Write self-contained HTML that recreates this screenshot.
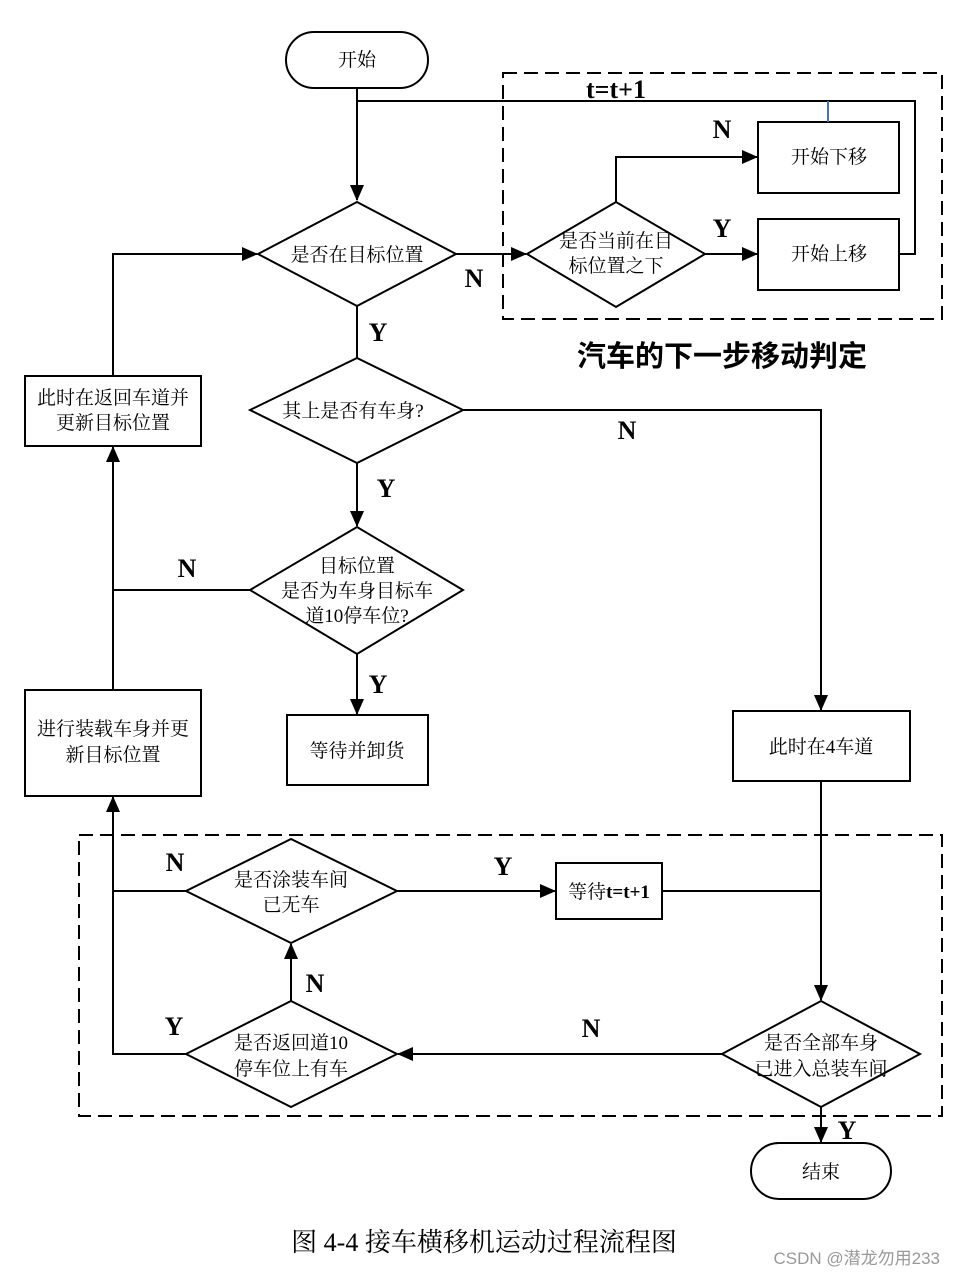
<!DOCTYPE html>
<html><head><meta charset="utf-8"><style>
body{margin:0;background:#fff;}
svg text{font-family:"Liberation Serif","Noto Serif CJK SC",serif;}
</style></head><body>
<svg width="955" height="1276" viewBox="0 0 955 1276" xmlns="http://www.w3.org/2000/svg">
<defs><marker id="b" markerWidth="16" markerHeight="14" refX="15" refY="7" orient="auto" markerUnits="userSpaceOnUse"><path d="M0,0 L16,7 L0,14 z" fill="#000"/></marker></defs>
<g fill="none" stroke="#000" stroke-width="2">
<rect x="503" y="73" width="439" height="246" stroke-dasharray="14,7"/>
<rect x="79" y="835" width="863" height="281" stroke-dasharray="14,7"/>
<rect x="286" y="32" width="142" height="56" rx="28"/>
<rect x="751" y="1143" width="140" height="56" rx="28"/>
<polygon points="258,254 357,202 456,254 357,306"/>
<polygon points="527,254 616,202 705,254 616,307"/>
<polygon points="250,410 357,358 463,410 357,463"/>
<polygon points="250,590 357,527 463,590 357,654"/>
<polygon points="186,891 291,839 397,891 291,943"/>
<polygon points="186,1054 291,1001 397,1054 291,1107"/>
<polygon points="722,1054 821,1001 920,1054 821,1107"/>
<rect x="758" y="122" width="141" height="71"/>
<rect x="758" y="219" width="141" height="71"/>
<rect x="25" y="376" width="176" height="70"/>
<rect x="25" y="690" width="176" height="106"/>
<rect x="287" y="715" width="141" height="70"/>
<rect x="733" y="711" width="177" height="70"/>
<rect x="556" y="863" width="106" height="56"/>
<polyline points="357,101 915,101 915,254 900,254"/>
<line x1="357" y1="88" x2="357" y2="200" marker-end="url(#b)"/>
<line x1="456" y1="254" x2="526" y2="254" marker-end="url(#b)"/>
<polyline points="616,202 616,157 757,157" marker-end="url(#b)"/>
<line x1="705" y1="254" x2="757" y2="254" marker-end="url(#b)"/>
<line x1="357" y1="306" x2="357" y2="358"/>
<polyline points="463,410 821,410 821,710" marker-end="url(#b)"/>
<line x1="357" y1="463" x2="357" y2="526" marker-end="url(#b)"/>
<line x1="357" y1="654" x2="357" y2="714" marker-end="url(#b)"/>
<line x1="250" y1="590" x2="113" y2="590"/>
<line x1="113" y1="690" x2="113" y2="447" marker-end="url(#b)"/>
<polyline points="113,376 113,254 257,254" marker-end="url(#b)"/>
<line x1="821" y1="781" x2="821" y2="1000" marker-end="url(#b)"/>
<line x1="397" y1="891" x2="555" y2="891" marker-end="url(#b)"/>
<line x1="662" y1="891" x2="821" y2="891"/>
<polyline points="186,891 113,891 113,797" marker-end="url(#b)"/>
<line x1="291" y1="1001" x2="291" y2="944" marker-end="url(#b)"/>
<polyline points="186,1054 113,1054 113,891"/>
<line x1="722" y1="1054" x2="398" y2="1054" marker-end="url(#b)"/>
<line x1="821" y1="1107" x2="821" y2="1142" marker-end="url(#b)"/>
</g>
<line x1="828" y1="101" x2="828" y2="122" stroke="#4472c4" stroke-width="2"/>
<g font-size="19" text-anchor="middle" fill="#000">
<text x="357" y="66">开始</text>
<text x="821" y="1178">结束</text>
<text x="357" y="261">是否在目标位置</text>
<text x="616" y="247">是否当前在目</text>
<text x="616" y="272">标位置之下</text>
<text x="829" y="163">开始下移</text>
<text x="829" y="260">开始上移</text>
<text x="353" y="417">其上是否有车身?</text>
<text x="357" y="572">目标位置</text>
<text x="357" y="597">是否为车身目标车</text>
<text x="357" y="622">道10停车位?</text>
<text x="113" y="404">此时在返回车道并</text>
<text x="113" y="429">更新目标位置</text>
<text x="113" y="735">进行装载车身并更</text>
<text x="113" y="761">新目标位置</text>
<text x="357" y="757">等待并卸货</text>
<text x="821" y="753">此时在4车道</text>
<text x="291" y="886">是否涂装车间</text>
<text x="291" y="911">已无车</text>
<text x="609" y="898">等待<tspan font-weight="bold">t=t+1</tspan></text>
<text x="291" y="1049">是否返回道10</text>
<text x="291" y="1075">停车位上有车</text>
<text x="821" y="1049">是否全部车身</text>
<text x="821" y="1075">已进入总装车间</text>
</g>
<g font-size="26" font-weight="bold" text-anchor="middle" fill="#000">
<text x="616" y="98">t=t+1</text>
<text x="474" y="287">N</text>
<text x="722" y="138">N</text>
<text x="722" y="237">Y</text>
<text x="378" y="341">Y</text>
<text x="627" y="439">N</text>
<text x="386" y="497">Y</text>
<text x="187" y="577">N</text>
<text x="378" y="693">Y</text>
<text x="175" y="871">N</text>
<text x="503" y="875">Y</text>
<text x="315" y="992">N</text>
<text x="174" y="1035">Y</text>
<text x="591" y="1037">N</text>
<text x="847" y="1139">Y</text>
</g>
<text x="722" y="366" font-size="29" font-weight="bold" text-anchor="middle" style="font-family:'Noto Sans CJK SC',sans-serif">汽车的下一步移动判定</text>
<text x="484" y="1251" font-size="26" text-anchor="middle">图 4-4 接车横移机运动过程流程图</text>
<text x="940" y="1264" font-size="17" text-anchor="end" fill="#999" style="font-family:'Liberation Sans','Noto Sans CJK SC',sans-serif">CSDN @潜龙勿用233</text>
</svg>
</body></html>
